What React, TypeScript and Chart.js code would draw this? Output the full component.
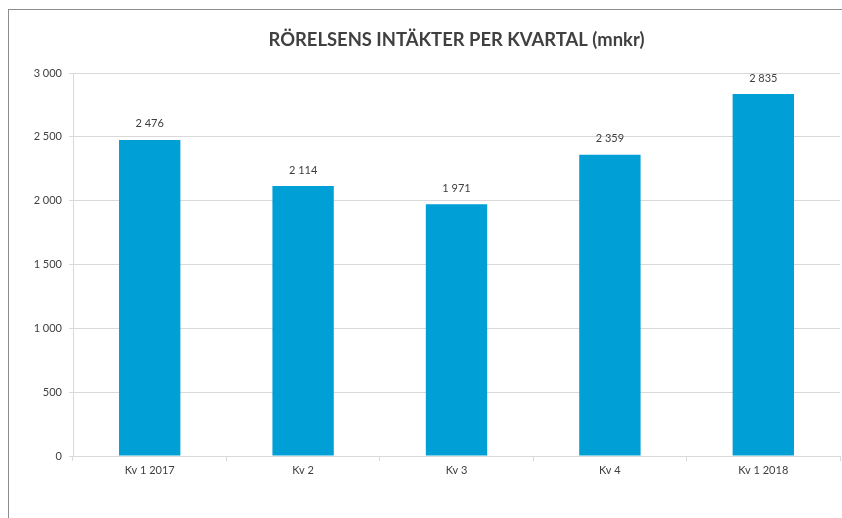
import React, { useEffect, useRef } from "react";
import { Chart, registerables } from "chart.js";

Chart.register(...registerables);

const categories = ["Kv 1 2017", "Kv 2", "Kv 3", "Kv 4", "Kv 1 2018"];
const values = [2476, 2114, 1971, 2359, 2835];
const yMin = 0;
const yMax = 3000;
const yStep = 500;
const titleText = "RÖRELSENS INTÄKTER PER KVARTAL (mnkr)";

const FONT = "Lato, 'Liberation Sans', sans-serif";
const TEXT = "#404040";
const GRID = "#d9d9d9";
const BAR = "#009FD6";

function fmt(v: number): string {
  const s = Math.round(v).toString();
  return s.replace(/\B(?=(\d{3})+(?!\d))/g, " ");
}

const labelPlugin = {
  id: "valueLabels",
  afterDatasetsDraw(chart: any) {
    const ctx = chart.ctx;
    const meta = chart.getDatasetMeta(0);
    ctx.save();
    ctx.font = `11px ${FONT}`;
    ctx.fillStyle = TEXT;
    ctx.textAlign = "center";
    ctx.textBaseline = "middle";
    meta.data.forEach((bar: any, i: number) => {
      ctx.fillText(fmt(values[i]), bar.x, bar.y - 16);
    });
    // title centred over the plot area
    const a = chart.chartArea;
    ctx.font = `bold 18.4px ${FONT}`;
    ctx.fillText(titleText, (a.left + a.right) / 2, a.top - 33);
    ctx.restore();
  },
};

export default function App() {
  const ref = useRef<HTMLCanvasElement>(null);
  useEffect(() => {
    document.documentElement.style.overflow = "hidden";
    document.body.style.overflow = "hidden";
    const chart = new Chart(ref.current!, {
      type: "bar",
      data: {
        labels: categories,
        datasets: [
          {
            data: values,
            backgroundColor: BAR,
            borderWidth: 0,
            barPercentage: 0.4,
            categoryPercentage: 1,
          },
        ],
      },
      options: {
        animation: false,
        responsive: false,
        maintainAspectRatio: false,
        layout: { padding: { left: 0, right: 2, top: 63, bottom: 0 } },
        plugins: {
          legend: { display: false },
          tooltip: { enabled: false },
          title: { display: false },
        },
        scales: {
          x: {
            grid: {
              display: true,
              drawOnChartArea: false,
              drawTicks: true,
              tickLength: 5,
              color: GRID,
              offset: true,
            },
            border: { display: true, color: GRID },
            ticks: {
              color: TEXT,
              font: { family: FONT, size: 11 },
              padding: 3,
              maxRotation: 0,
            },
            afterFit(scale: any) {
              scale.height = 62;
            },
          },
          y: {
            min: yMin,
            max: yMax,
            grid: { color: GRID, tickLength: 4, drawTicks: true },
            border: { display: true, color: GRID },
            ticks: {
              stepSize: yStep,
              color: TEXT,
              font: { family: FONT, size: 11 },
              padding: 7,
              callback: (v: any) => fmt(Number(v)),
            },
            afterFit(scale: any) {
              scale.width = 64;
            },
          },
        },
      },
      plugins: [labelPlugin],
    });
    return () => chart.destroy();
  }, []);
  return (
    <div
      style={{
        position: "fixed",
        left: 8,
        top: 9,
        width: 834,
        height: 509,
        borderTop: "1px solid #8c8c8c",
        borderLeft: "1px solid #8c8c8c",
        boxSizing: "border-box",
        overflow: "hidden",
      }}
    >
      <canvas ref={ref} width={833} height={508} style={{ display: "block" }} />
    </div>
  );
}
